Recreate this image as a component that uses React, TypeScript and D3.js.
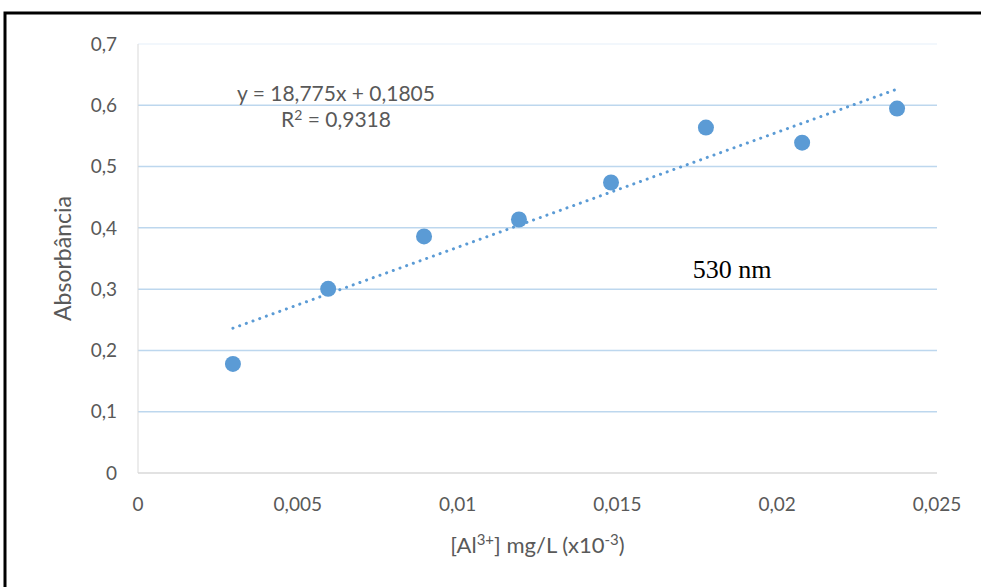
import { useEffect, useRef } from "react";
import * as d3 from "d3";

// Data
const concentrations = [0.00297, 0.00595, 0.00895, 0.01192, 0.0148, 0.01777, 0.02078, 0.02375];
const absorbances = [0.178, 0.3005, 0.386, 0.4136, 0.474, 0.5637, 0.539, 0.5947];
const xTicks = [0, 0.005, 0.01, 0.015, 0.02, 0.025];
const yTicks = [0, 0.1, 0.2, 0.3, 0.4, 0.5, 0.6, 0.7];
const slope = 18.775;
const intercept = 0.1805;

const fmt = (v: number) => String(+v.toFixed(3)).replace(".", ",");

const App = () => {
  const ref = useRef<SVGSVGElement>(null);

  useEffect(() => {
    const svg = d3.select(ref.current);
    svg.selectAll("*").remove();

    const width = 981;
    const height = 587;
    const margin = { top: 44, right: 44, bottom: 114, left: 138 };

    const x = d3.scaleLinear().domain([0, 0.025]).range([margin.left, width - margin.right]);
    const y = d3.scaleLinear().domain([0, 0.7]).range([height - margin.bottom, margin.top]);

    const font = "Lato, 'Open Sans', sans-serif";
    const grey = "#595959";

    // frame
    svg
      .append("rect")
      .attr("x", 5)
      .attr("y", 13)
      .attr("width", 990)
      .attr("height", 600)
      .attr("fill", "white")
      .attr("stroke", "black")
      .attr("stroke-width", 3);

    // gridlines
    svg
      .append("g")
      .selectAll("line")
      .data(yTicks.filter((d) => d > 0))
      .join("line")
      .attr("x1", x(0))
      .attr("x2", x(0.025))
      .attr("y1", (d) => y(d))
      .attr("y2", (d) => y(d))
      .attr("stroke", (d) => (d === 0.7 ? "#eef4fb" : "#bdd7ee"))
      .attr("stroke-width", 1.5);

    // axis lines
    svg
      .append("line")
      .attr("x1", x(0))
      .attr("x2", x(0))
      .attr("y1", y(0.7))
      .attr("y2", y(0))
      .attr("stroke", "#d9d9d9")
      .attr("stroke-width", 1);
    svg
      .append("line")
      .attr("x1", x(0))
      .attr("x2", x(0.025))
      .attr("y1", y(0))
      .attr("y2", y(0))
      .attr("stroke", "#d9d9d9")
      .attr("stroke-width", 1.5);

    // y tick labels
    svg
      .append("g")
      .attr("font-family", font)
      .attr("font-size", 19)
      .attr("fill", grey)
      .attr("text-anchor", "end")
      .selectAll("text")
      .data(yTicks)
      .join("text")
      .attr("x", x(0) - 21)
      .attr("y", (d) => y(d))
      .attr("dy", "0.35em")
      .text((d) => fmt(d));

    // x tick labels
    svg
      .append("g")
      .attr("font-family", font)
      .attr("font-size", 19)
      .attr("fill", grey)
      .attr("text-anchor", "middle")
      .selectAll("text")
      .data(xTicks)
      .join("text")
      .attr("x", (d) => x(d))
      .attr("y", y(0) + 38)
      .text((d) => fmt(d));

    // trendline (dotted)
    const x0 = d3.min(concentrations) as number;
    const x1 = d3.max(concentrations) as number;
    svg
      .append("path")
      .datum([x0, x1])
      .attr(
        "d",
        d3
          .line<number>()
          .x((d) => x(d))
          .y((d) => y(slope * d + intercept))
      )
      .attr("fill", "none")
      .attr("stroke", "#5b9bd5")
      .attr("stroke-width", 3)
      .attr("stroke-linecap", "round")
      .attr("stroke-dasharray", "0.1 7");

    // points
    svg
      .append("g")
      .attr("fill", "#5b9bd5")
      .selectAll("circle")
      .data(concentrations)
      .join("circle")
      .attr("cx", (d) => x(d))
      .attr("cy", (d, i) => y(absorbances[i]))
      .attr("r", 8);

    // equation
    const eq = svg
      .append("g")
      .attr("font-family", font)
      .attr("font-size", 21)
      .attr("fill", grey)
      .attr("text-anchor", "middle");
    eq.append("text")
      .attr("x", 336)
      .attr("y", 101)
      .text("y = 18,775x + 0,1805");
    const r2 = eq.append("text").attr("x", 336).attr("y", 127);
    r2.append("tspan").text("R");
    r2.append("tspan").attr("dy", -7).attr("font-size", 14).text("2");
    r2.append("tspan").attr("dy", 7).text(" = 0,9318");

    // 530 nm
    svg
      .append("text")
      .attr("x", 732)
      .attr("y", 278)
      .attr("text-anchor", "middle")
      .attr("font-family", "'Liberation Serif', 'DejaVu Serif', serif")
      .attr("font-size", 26)
      .attr("fill", "black")
      .text("530 nm");

    // y axis title
    svg
      .append("text")
      .attr("transform", `translate(71, ${y(0.35)}) rotate(-90)`)
      .attr("text-anchor", "middle")
      .attr("font-family", font)
      .attr("font-size", 23)
      .attr("fill", grey)
      .text("Absorbância");

    // x axis title
    const xt = svg
      .append("text")
      .attr("x", (x(0) + x(0.025)) / 2)
      .attr("y", 553)
      .attr("text-anchor", "middle")
      .attr("font-family", font)
      .attr("font-size", 22)
      .attr("fill", grey);
    xt.append("tspan").text("[Al");
    xt.append("tspan").attr("dy", -8).attr("font-size", 15).text("3+");
    xt.append("tspan").attr("dy", 8).text("] mg/L (x10");
    xt.append("tspan").attr("dy", -8).attr("font-size", 15).text("-3");
    xt.append("tspan").attr("dy", 8).text(")");
  }, []);

  return (
    <svg
      ref={ref}
      width={981}
      height={587}
      style={{ position: "fixed", left: 0, top: 0, background: "white" }}
    />
  );
};

export default App;
